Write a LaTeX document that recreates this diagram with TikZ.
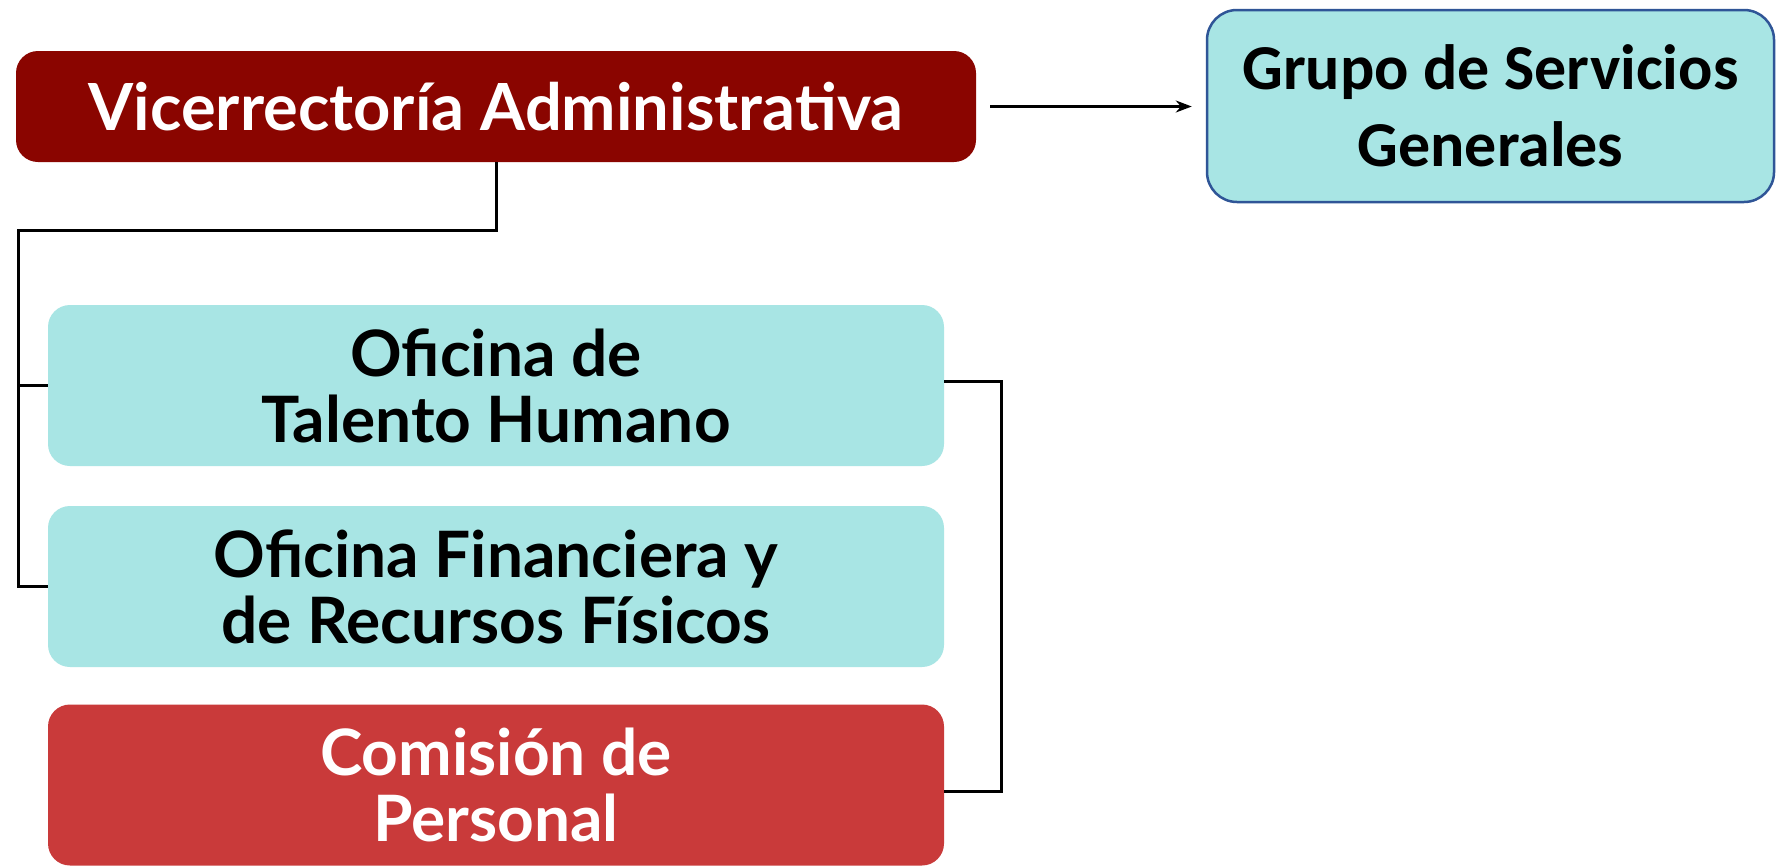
\documentclass[tikz,border=0pt]{standalone}
\usepackage{fontspec}
\setmainfont{Lato}
\newfontfamily\calib{Carlito}
\usetikzlibrary{arrows.meta}
\definecolor{vicered}{HTML}{8A0500}
\definecolor{comred}{HTML}{C93A3A}
\definecolor{cyanbox}{HTML}{A8E5E4}
\definecolor{bordblue}{HTML}{2F5597}
\tikzset{
  box/.style={rounded corners=22pt, minimum width=896pt, minimum height=161pt, align=center, inner sep=0pt,
     font=\fontsize{64}{66}\selectfont\bfseries},
  cyanb/.style={box, fill=cyanbox, text=black},
  redb/.style={box, fill=comred, text=white},
  link/.style={line width=3pt, black},
}
\begin{document}
\begin{tikzpicture}[x=1pt,y=-1pt]
\useasboundingbox[fill=white] (0,0) rectangle (1784,865);
\node[box, fill=vicered, text=white, minimum width=960pt, minimum height=111pt, font=\fontsize{65}{70}\selectfont\bfseries] (vice) at (496,106.5) {Vicerrectoría Administrativa};
\node[draw=bordblue, line width=2.5pt, fill=cyanbox, rounded corners=30pt, minimum width=567pt, minimum height=192pt, align=center, inner sep=0pt, font=\calib\fontsize{64}{77}\selectfont\bfseries] (grupo) at (1490.5,106) {Grupo de Servicios\\Generales};
\node[cyanb] (tal) at (496,385.5) {Oficina de\\Talento Humano};
\node[cyanb] (fin) at (496,586.5) {Oficina Financiera y\\de Recursos Físicos};
\node[redb] (com) at (496,785) {Comisión de\\Personal};
\coordinate (bus) at (18,230);
\draw[link] (vice.south) |- (bus) |- (fin.west);
\draw[link] (bus |- tal.west) -- (tal.west);
\draw[link] ([yshift=4.5pt]tal.east) -- ++(57,0) |- ([yshift=-6pt]com.east);
\draw[link, line width=2.5pt, -{Stealth[length=16pt,width=12pt]}, shorten <=14pt, shorten >=14pt] (vice.east) -- (vice.east -| grupo.west);
\end{tikzpicture}
\end{document}
